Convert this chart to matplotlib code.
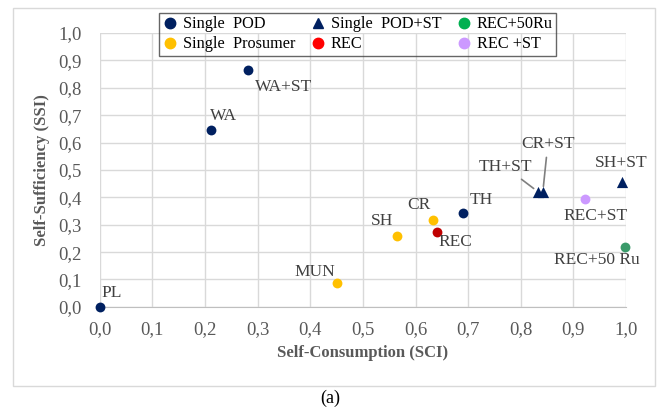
import matplotlib.pyplot as plt
from matplotlib.patches import Rectangle
from matplotlib.lines import Line2D
from matplotlib.ticker import FuncFormatter

plt.rcParams['font.family'] = ['Liberation Serif', 'DejaVu Serif']

# Data
names = ['PL', 'WA', 'WA+ST', 'TH', 'CR', 'SH', 'REC', 'MUN',
         'TH+ST', 'CR+ST', 'SH+ST', 'REC+ST', 'REC+50 Ru']
sci = [0.0, 0.211, 0.281, 0.690, 0.633, 0.565, 0.640, 0.451,
       0.833, 0.842, 0.992, 0.922, 0.998]
ssi = [0.0, 0.646, 0.865, 0.343, 0.318, 0.259, 0.274, 0.088,
       0.420, 0.420, 0.456, 0.394, 0.219]
groups = ['pod', 'pod', 'pod', 'pod', 'pros', 'pros', 'rec', 'pros',
          'podst', 'podst', 'podst', 'recst', 'rec50']

# label offsets in pixels (dx, dy)
offsets = {'PL': (12, 14), 'WA': (13, 14), 'WA+ST': (36, -17), 'TH': (18, 13),
           'CR': (-14, 15), 'SH': (-15, 15), 'REC': (19, -10), 'MUN': (-22, 11),
           'TH+ST': (-33, 25), 'CR+ST': (5, 48), 'SH+ST': (-1, 19),
           'REC+ST': (11, -17), 'REC+50 Ru': (-28, -13)}
arrows = ['TH+ST', 'CR+ST']

styles = {
    'pod': ('o', '#002060', 'Single  POD'),
    'pros': ('o', '#FFC000', 'Single  Prosumer'),
    'podst': ('^', '#002060', 'Single  POD+ST'),
    'rec': ('o', '#C00000', 'REC'),
    'rec50': ('o', '#3A9A6A', 'REC+50Ru'),
    'recst': ('o', '#CC99FF', 'REC +ST'),
}
legend_colors = {'rec': '#FF0000', 'rec50': '#00B050'}

fig = plt.figure(figsize=(6.61, 4.13), dpi=100)
ax = fig.add_axes([0.151, 0.257, 0.796, 0.663])

for x, y, g in zip(sci, ssi, groups):
    m, c, _ = styles[g]
    ax.scatter(x, y, marker=m, color=c, s=50 if m == 'o' else 65, zorder=3,
               linewidths=0, clip_on=False)

for n, x, y in zip(names, sci, ssi):
    dx, dy = offsets[n]
    kw = {}
    if n in arrows:
        kw['arrowprops'] = dict(arrowstyle='-', color='#7F7F7F', lw=1.2,
                                shrinkA=2, shrinkB=4)
    ax.annotate(n, (x, y), xytext=(dx, dy), textcoords='offset pixels',
                ha='center', va='center', fontsize=12.5, color='#404040', **kw)

ax.set_xlim(0, 1)
ax.set_ylim(0, 1)
ax.set_xticks([i / 10 for i in range(11)])
ax.set_yticks([i / 10 for i in range(11)])
fmt = FuncFormatter(lambda v, p: f'{v:.1f}'.replace('.', ','))
ax.xaxis.set_major_formatter(fmt)
ax.yaxis.set_major_formatter(fmt)
ax.tick_params(axis='y', length=0, labelsize=13.5, labelcolor='#595959', pad=13)
ax.tick_params(axis='x', length=0, labelsize=13.5, labelcolor='#595959', pad=10)
ax.grid(True, color='#D9D9D9', lw=1)
ax.set_axisbelow(True)
for s in ['top', 'right', 'left']:
    ax.spines[s].set_visible(False)
ax.spines['bottom'].set_color('#BFBFBF')

ax.set_xlabel('Self-Consumption (SCI)', fontsize=12, fontweight='bold', color='#595959', labelpad=5)
ax.set_ylabel('Self-Sufficiency (SSI)', fontsize=12, fontweight='bold', color='#595959', labelpad=6)

order = ['pod', 'pros', 'podst', 'rec', 'rec50', 'recst']
handles = []
for g in order:
    m, c, lab = styles[g]
    handles.append(Line2D([], [], ls='', marker=m, color=legend_colors.get(g, c),
                          markersize=7.5, label=lab))
leg = fig.legend(handles=handles, ncol=3, loc='upper left', bbox_to_anchor=(159 / 661, 1 - 13 / 413),
                 borderaxespad=0, fontsize=11.7, frameon=True, fancybox=False,
                 handletextpad=0.3, handlelength=1.0, columnspacing=0.86,
                 borderpad=0.2, labelspacing=0.25)
leg.get_frame().set_edgecolor('#404040')
leg.get_frame().set_facecolor('none')
leg.get_frame().set_linewidth(1)

fig.patches.append(Rectangle((13 / 661, 1 - 386 / 413), 642 / 661, 378 / 413,
                             transform=fig.transFigure, fill=False, edgecolor='#D9D9D9', lw=1))
fig.text(0.5, 1 - 398 / 413, '(a)', ha='center', va='center', fontsize=13, color='black')

fig.savefig('out.png', dpi=100)
